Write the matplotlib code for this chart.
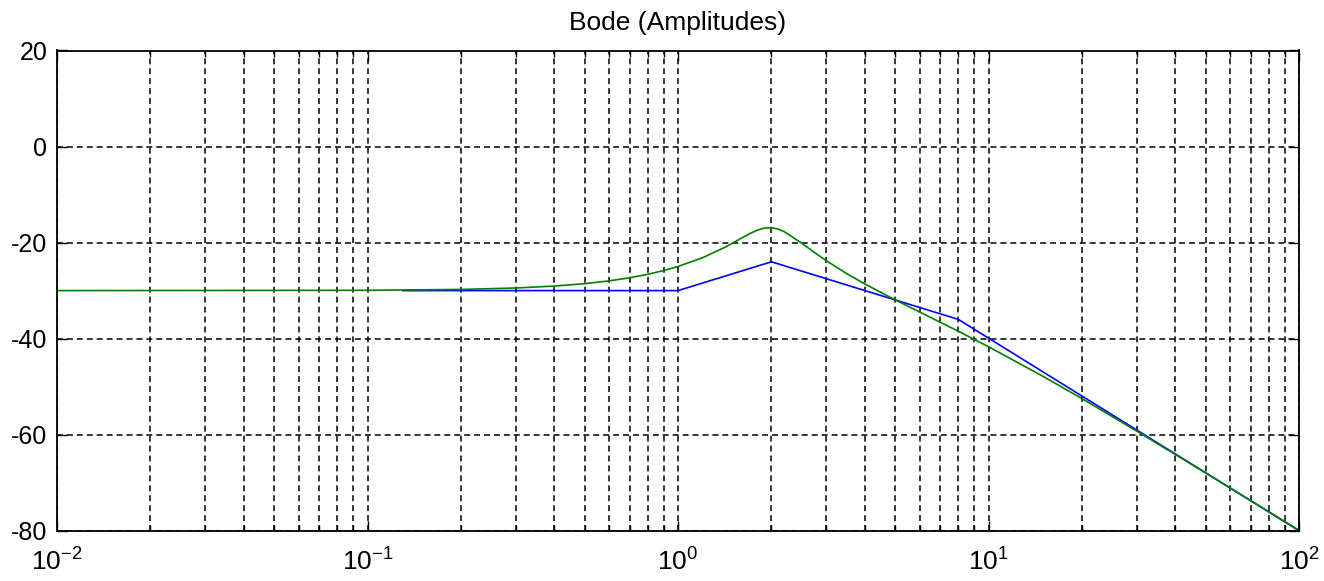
import matplotlib
matplotlib.use("Agg")
import matplotlib.pyplot as plt
from matplotlib.ticker import LogLocator, FixedLocator, NullFormatter

plt.rcParams['font.family'] = ['Liberation Sans', 'DejaVu Sans']
plt.rcParams['mathtext.fontset'] = 'custom'
plt.rcParams['mathtext.rm'] = 'Liberation Sans'
plt.rcParams['mathtext.it'] = 'Liberation Sans'
plt.rcParams['mathtext.bf'] = 'Liberation Sans'
plt.rcParams['axes.unicode_minus'] = False

# asymptotic (straight-line) magnitude, breakpoints in rad/s and dB
asym_w = [0.13, 1.0, 2.0, 8.0, 100.0]
asym_db = [-30.0, -30.0, -24.0, -36.0, -80.0]

# actual magnitude response
mag_w = [0.01, 0.1, 0.2, 0.3, 0.4, 0.5, 0.6, 0.7, 0.8, 0.9, 1.0, 1.2, 1.4,
         1.5, 1.6, 1.7, 1.8, 1.9, 2.0, 2.1, 2.2, 2.5, 2.75, 3.0, 3.5, 4.0,
         5.0, 6.0, 7.0, 8.0, 10.0, 15.0, 20.0, 30.0, 50.0, 70.0, 100.0]
mag_db = [-30.0, -29.94, -29.76, -29.46, -29.05, -28.56, -27.98, -27.32,
          -26.60, -25.82, -24.98, -23.15, -21.14, -20.10, -19.08, -18.16,
          -17.42, -16.97, -16.90, -17.18, -17.74, -20.10, -22.05, -23.75,
          -26.49, -28.63, -31.91, -34.46, -36.60, -38.47, -41.69, -47.87,
          -52.50, -59.24, -67.95, -73.75, -79.92]

y_ticks = [20, 0, -20, -40, -60, -80]

fig = plt.figure(figsize=(13.24, 5.81), dpi=100)
ax = fig.add_axes([57 / 1324, 1 - 530.7 / 581, (1299 - 57) / 1324, (530.7 - 50.5) / 581])

ax.semilogx(asym_w, asym_db, color=(0, 0, 1), lw=1.2)
ax.semilogx(mag_w, mag_db, color=(0, 0.5, 0), lw=1.2)

ax.set_xlim(1e-2, 1e2)
ax.set_ylim(-80, 20)
ax.yaxis.set_major_locator(FixedLocator(y_ticks))
ax.xaxis.set_major_locator(LogLocator(base=10, numticks=10))
ax.xaxis.set_minor_locator(LogLocator(base=10, subs=range(2, 10), numticks=20))
ax.xaxis.set_minor_formatter(NullFormatter())

# dashed grid, roughly 6px on / 4px off
dash = (0, (3.9, 2.6))
ax.grid(True, which='major', color='black', lw=1.1, linestyle=dash)
ax.grid(True, which='minor', axis='x', color='black', lw=1.1, linestyle=dash)

ax.tick_params(which='both', direction='in', top=True, right=True,
               width=1.0, color='black')
ax.tick_params(which='major', length=7)
ax.tick_params(which='minor', length=4)
ax.tick_params(axis='y', labelsize=18, pad=7)
ax.tick_params(axis='x', labelsize=19, pad=13)
for s in ax.spines.values():
    s.set_linewidth(1.3)

ax.set_title('Bode (Amplitudes)', fontsize=19, pad=15)

fig.savefig('out.png', dpi=100)
